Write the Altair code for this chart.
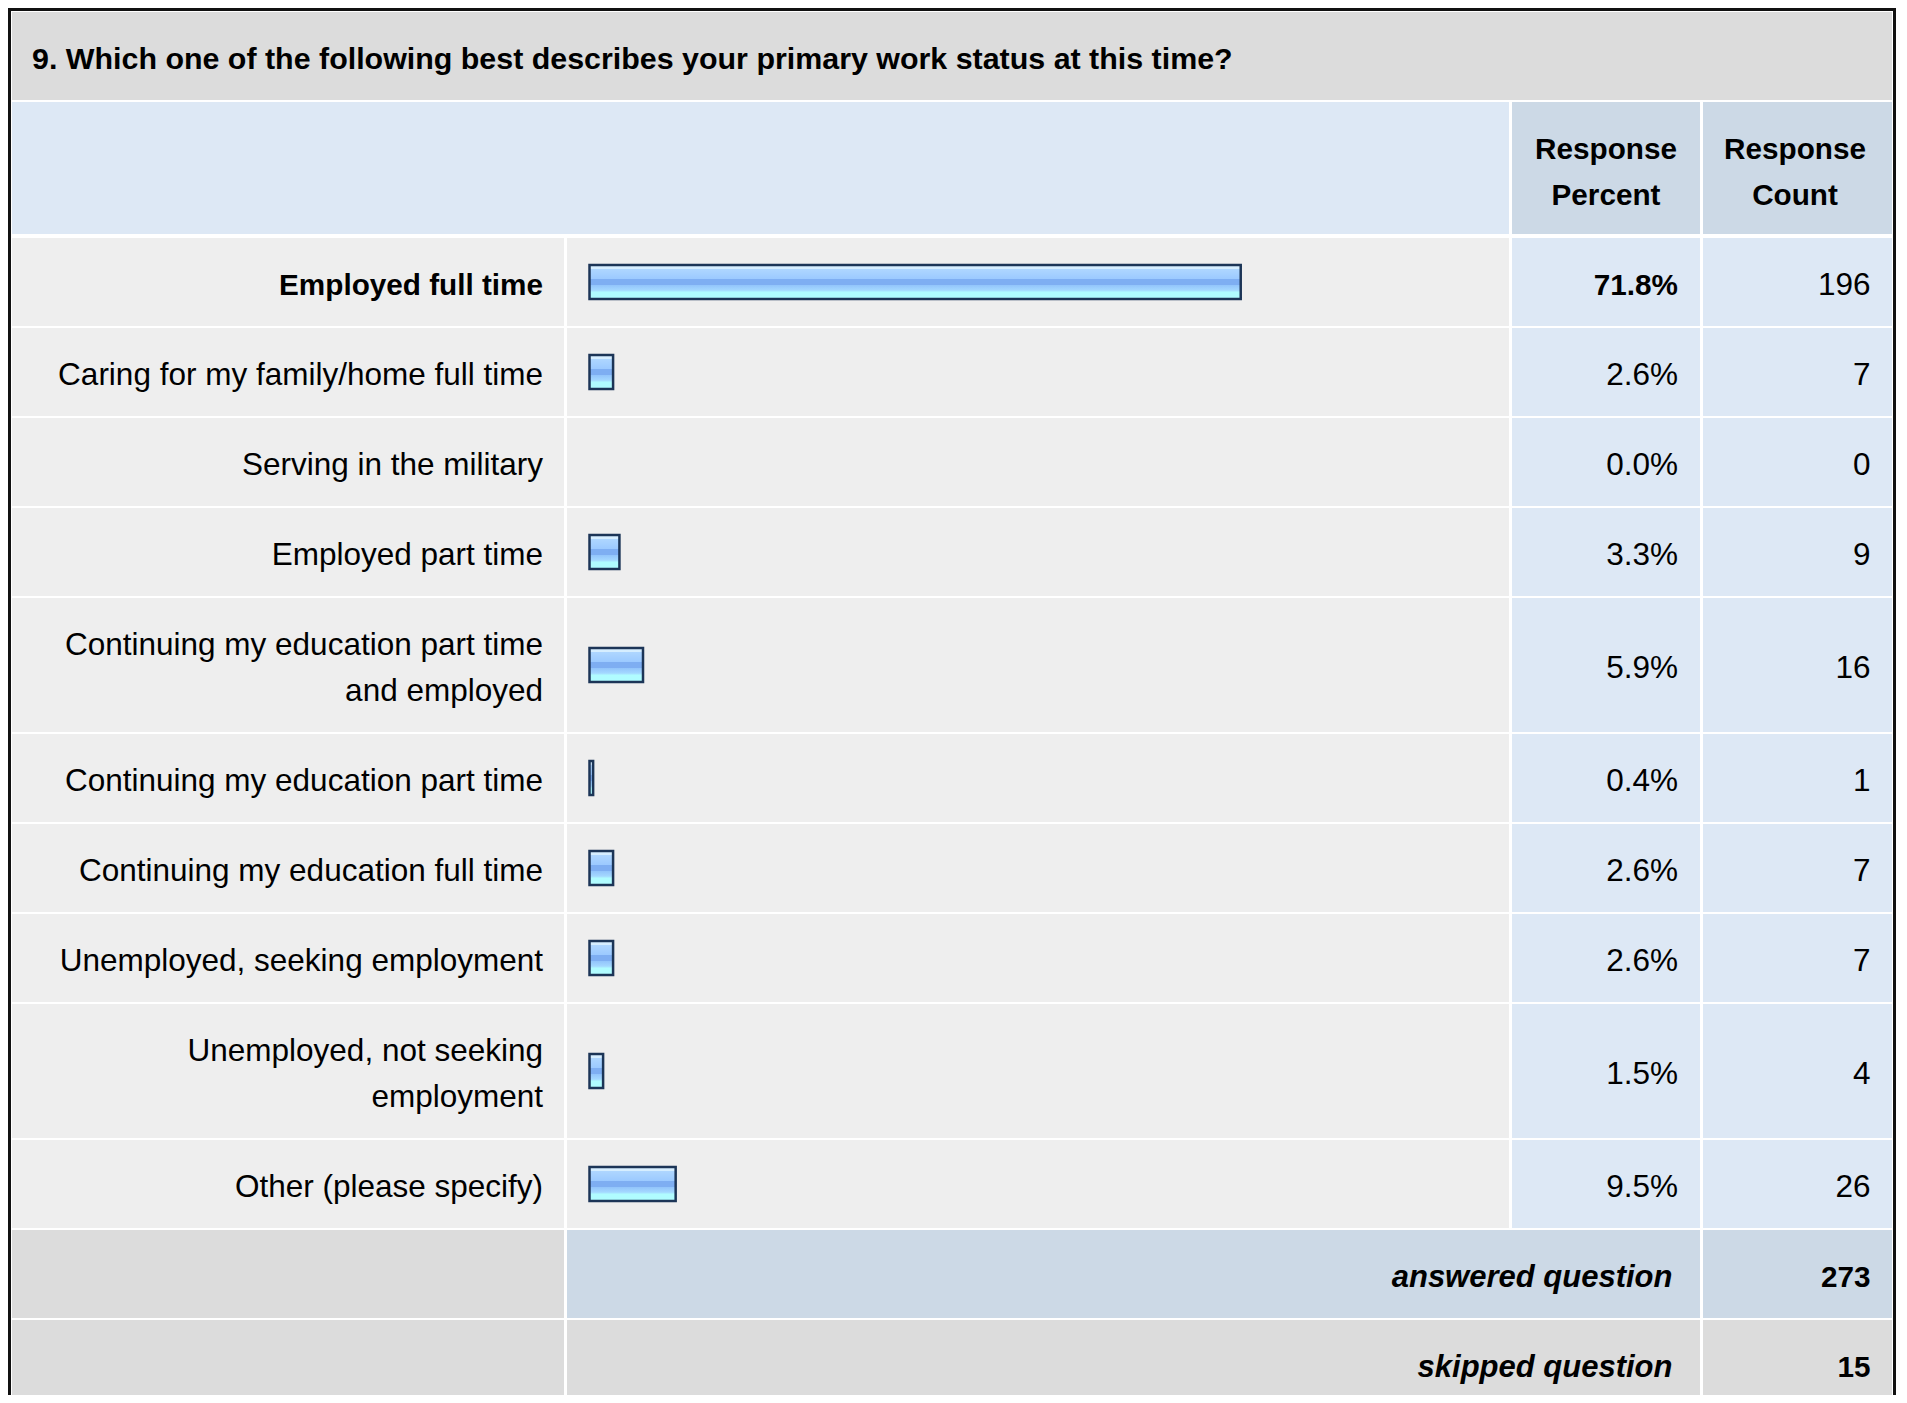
import altair as alt
import pandas as pd

# ---------------- data ----------------
TITLE = "9. Which one of the following best describes your primary work status at this time?"
CATEGORIES = [
    "Employed full time",
    "Caring for my family/home full time",
    "Serving in the military",
    "Employed part time",
    "Continuing my education part time\nand employed",
    "Continuing my education part time",
    "Continuing my education full time",
    "Unemployed, seeking employment",
    "Unemployed, not seeking\nemployment",
    "Other (please specify)",
]
PERCENTS = [71.8, 2.6, 0.0, 3.3, 5.9, 0.4, 2.6, 2.6, 1.5, 9.5]
COUNTS = [196, 7, 0, 9, 16, 1, 7, 7, 4, 26]
HEADERS = ["Response\nPercent", "Response\nCount"]
SUMMARY_LABELS = ["answered question", "skipped question"]
SUMMARY_VALUES = [273, 15]

# ---------------- layout (page pixels) ----------------
PAGE_W, PAGE_H, M = 1907, 1403, 8
W, H = PAGE_W - 2 * M, PAGE_H - 2 * M

COL_LABEL = (12, 564)
COL_BAR = (567, 1509)
COL_PCT = (1512, 1700)
COL_CNT = (1703, 1892)
TITLE_ROW = (12, 100)
HEAD_ROW = (102, 234)
BODY_TOP = 236
GAP = 2
LINE_H = 46
ROW_PAD = 44
FONT = "Liberation Sans"
FS_REG = 31.5
FS_BOLD = 29.7
FS_TITLE = 30.4
FS_SUM = 31
DY = 4

GRAY, LIGHT, BLUE, BLUE2 = "#dcdcdc", "#eeeeee", "#dde8f5", "#ccd9e6"

layout_x = alt.Scale(domain=[M, PAGE_W - M], nice=False, zero=False)
layout_y = alt.Scale(domain=[M, PAGE_H - M], nice=False, zero=False, reverse=True)
bar_x = alt.Scale(domain=[0, 100], range=[581.5, 1488.5], nice=False, zero=False)


def first_line_y(center, text):
    return center - (text.count("\n")) * LINE_H / 2


# ---------------- cells & texts ----------------
cells = []
texts = []


def cell(x0, x1, y0, y1, fill):
    cells.append(dict(x=x0, x2=x1, y=y0, y2=y1, fill=fill))


def txt(x, yc, t, grp):
    t = str(t)
    texts.append(dict(tx=x, ty=first_line_y(yc, t), t=t, grp=grp))


cell(COL_LABEL[0], COL_CNT[1], *TITLE_ROW, GRAY)
cell(COL_LABEL[0], COL_BAR[1], *HEAD_ROW, BLUE)
cell(*COL_PCT, *HEAD_ROW, BLUE2)
cell(*COL_CNT, *HEAD_ROW, BLUE2)

txt(32, (TITLE_ROW[0] + TITLE_ROW[1]) / 2, TITLE, "title")
head_c = (HEAD_ROW[0] + HEAD_ROW[1]) / 2 + 0.5
txt((COL_PCT[0] + COL_PCT[1]) / 2, head_c, HEADERS[0], "head")
txt((COL_CNT[0] + COL_CNT[1]) / 2 - 2.5, head_c, HEADERS[1], "head")

top_idx = max(range(len(PERCENTS)), key=lambda i: PERCENTS[i])
bars = []
top = BODY_TOP
for i, (lab, p, c) in enumerate(zip(CATEGORIES, PERCENTS, COUNTS)):
    h = ROW_PAD + LINE_H * (lab.count("\n") + 1)
    y0, y1 = top + GAP, top + h
    yc = (y0 + y1) / 2
    cell(*COL_LABEL, y0, y1, LIGHT)
    cell(*COL_BAR, y0, y1, LIGHT)
    cell(*COL_PCT, y0, y1, BLUE)
    cell(*COL_CNT, y0, y1, BLUE)
    strong = "bold" if i == top_idx else "reg"
    txt(COL_LABEL[1] - 21, yc, lab, "right_" + strong)
    txt(COL_PCT[1] - 22, yc, f"{p:.1f}%", "right_" + strong)
    txt(COL_CNT[1] - 21.5, yc, c, "right_reg")
    bars.append(dict(pct=p, zero=0.0, by0=yc - 17, by1=yc + 17))
    top += h

for i, (lab, v) in enumerate(zip(SUMMARY_LABELS, SUMMARY_VALUES)):
    h = ROW_PAD + LINE_H
    y0, y1 = top + GAP, top + h
    yc = (y0 + y1) / 2
    mid = BLUE2 if i == 0 else GRAY
    cell(*COL_LABEL, y0, y1, GRAY)
    cell(COL_BAR[0], COL_PCT[1], y0, y1, mid)
    cell(*COL_CNT, y0, y1, mid)
    txt(COL_PCT[1] - 27.5, yc - 0.5, lab, "summary")
    txt(COL_CNT[1] - 21.5, yc - 0.5, v, "right_bold")
    top += h

cells_df = pd.DataFrame(cells)
text_df = pd.DataFrame(texts)
bars_df = pd.DataFrame(bars)


def X(f):
    return alt.X(f, type="quantitative", scale=layout_x, axis=None)


def Y(f):
    return alt.Y(f, type="quantitative", scale=layout_y, axis=None)


background = alt.Chart(cells_df).mark_rect().encode(
    x=X("x"), x2="x2", y=Y("y"), y2="y2",
    color=alt.Color("fill:N", scale=None),
)

border_df = pd.DataFrame([dict(x=9.5, x2=1894.5, y=9.5, y2=PAGE_H + 40)])
border = alt.Chart(border_df).mark_rect(
    fillOpacity=0, stroke="#111111", strokeWidth=3
).encode(x=X("x"), x2="x2", y=Y("y"), y2="y2")


def text_layer(grp, align, weight, style, size):
    return alt.Chart(text_df).transform_filter(
        alt.datum.grp == grp
    ).mark_text(
        align=align, baseline="middle", font=FONT, fontSize=size,
        fontWeight=weight, fontStyle=style, color="#000000",
        lineBreak="\n", lineHeight=LINE_H, dy=DY,
    ).encode(x=X("tx"), y=Y("ty"), text=alt.Text("t:N"))


layout = alt.layer(
    background,
    border,
    text_layer("title", "left", "bold", "normal", FS_TITLE),
    text_layer("head", "center", "bold", "normal", FS_BOLD),
    text_layer("right_reg", "right", "normal", "normal", FS_REG),
    text_layer("right_bold", "right", "bold", "normal", FS_BOLD),
    text_layer("summary", "right", "bold", "italic", FS_SUM),
)

gradient = alt.LinearGradient(
    gradient="linear", x1=0, x2=0, y1=0, y2=1,
    stops=[
        alt.GradientStop(offset=0.0, color="#d6eeff"),
        alt.GradientStop(offset=0.12, color="#d6eeff"),
        alt.GradientStop(offset=0.13, color="#aed6ff"),
        alt.GradientStop(offset=0.40, color="#9ccaff"),
        alt.GradientStop(offset=0.41, color="#7eaef2"),
        alt.GradientStop(offset=0.58, color="#7eaef2"),
        alt.GradientStop(offset=0.59, color="#92c4fb"),
        alt.GradientStop(offset=0.74, color="#a4d8ff"),
        alt.GradientStop(offset=0.80, color="#b0fcff"),
        alt.GradientStop(offset=1.0, color="#b0fcff"),
    ],
)
bar_layer = alt.Chart(bars_df).transform_filter("datum.pct > 0").mark_rect(
    fill=gradient, stroke="#1c3557", strokeWidth=2.5
).encode(
    x=alt.X("zero:Q", scale=bar_x, axis=None), x2="pct:Q",
    y=Y("by0"), y2="by1",
)

chart = alt.layer(layout, bar_layer).resolve_scale(x="independent").properties(
    width=W, height=H, padding=0,
    autosize=alt.AutoSizeParams(type="none"),
    background="#ffffff",
).configure_view(strokeWidth=0)

chart.save("out.html", embed_options={"renderer": "svg", "actions": False})
